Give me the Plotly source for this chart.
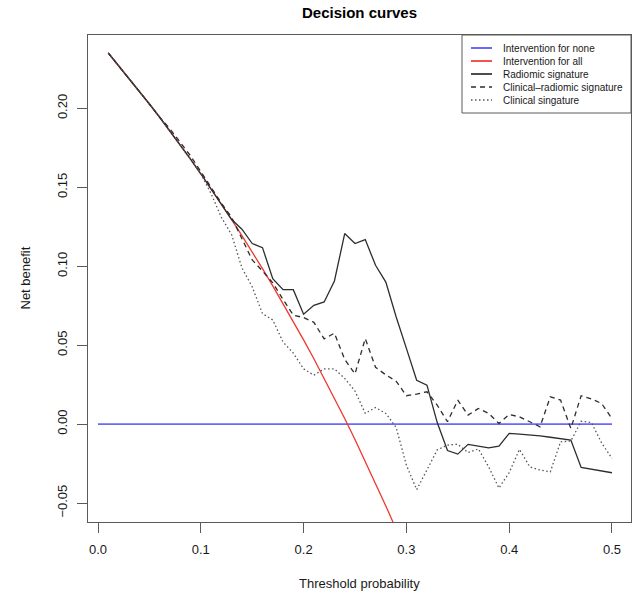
import plotly.graph_objects as go

# ---------------- data ----------------
thresholds = [0.01, 0.02, 0.03, 0.04, 0.05, 0.06, 0.07, 0.08, 0.09, 0.10,
              0.11, 0.12, 0.13, 0.14, 0.15, 0.16, 0.17, 0.18, 0.19, 0.20,
              0.21, 0.22, 0.23, 0.24, 0.25, 0.26, 0.27, 0.28, 0.29, 0.30,
              0.31, 0.32, 0.33, 0.34, 0.35, 0.36, 0.37, 0.38, 0.39, 0.40,
              0.41, 0.42, 0.43, 0.44, 0.45, 0.46, 0.47, 0.48, 0.49, 0.50]

none_x = [0.0, 0.5]
none_y = [0.0, 0.0]

all_x = [0.01, 0.02, 0.03, 0.04, 0.05, 0.06, 0.07, 0.08, 0.09, 0.10,
         0.11, 0.12, 0.13, 0.14, 0.15, 0.16, 0.17, 0.18, 0.19, 0.20,
         0.21, 0.22, 0.23, 0.24, 0.25, 0.26, 0.27, 0.28, 0.29, 0.30]
all_y = [0.2351, 0.2272, 0.2193, 0.2111, 0.2028, 0.1944, 0.1857, 0.1768, 0.1678, 0.1586,
         0.1491, 0.1394, 0.1295, 0.1194, 0.1091, 0.0985, 0.0876, 0.0765, 0.0651, 0.0534,
         0.0414, 0.0291, 0.0165, 0.0036, -0.0097, -0.0234, -0.0374, -0.0518, -0.0666, -0.0819]

radiomic = [0.2351, 0.2272, 0.2193, 0.2111, 0.2028, 0.1944, 0.1857, 0.1768, 0.1678, 0.1586,
            0.1491, 0.1395, 0.1296, 0.1235, 0.1144, 0.1118, 0.0922, 0.0852, 0.0852, 0.0696,
            0.0753, 0.0774, 0.0907, 0.1207, 0.1144, 0.1169, 0.1006, 0.0900, 0.0680, 0.0480,
            0.0278, 0.0247, 0.0010, -0.0167, -0.0190, -0.0128, -0.0141, -0.0150, -0.0140, -0.0059,
            -0.0063, -0.0067, -0.0075, -0.0083, -0.0092, -0.0101, -0.0274, -0.0285, -0.0296, -0.0308]

clinical_radiomic = [0.2351, 0.2272, 0.2193, 0.2111, 0.2028, 0.1944, 0.1870, 0.1785, 0.1700, 0.1600,
                     0.1500, 0.1400, 0.1310, 0.1180, 0.1040, 0.0970, 0.0895, 0.0790, 0.0690, 0.0675,
                     0.0645, 0.0540, 0.0576, 0.0410, 0.0318, 0.0542, 0.0360, 0.0312, 0.0272, 0.0180,
                     0.0190, 0.0205, 0.0120, 0.0015, 0.0152, 0.0057, 0.0099, 0.0068, 0.0004, 0.0061,
                     0.0046, 0.0015, -0.0017, 0.0173, 0.0152, -0.0027, 0.0180, 0.0160, 0.0130, 0.0035]

clinical = [0.2351, 0.2272, 0.2193, 0.2111, 0.2028, 0.1944, 0.1857, 0.1768, 0.1678, 0.1586,
            0.1460, 0.1310, 0.1200, 0.0990, 0.0870, 0.0700, 0.0660, 0.0520, 0.0450, 0.0350,
            0.0310, 0.0350, 0.0350, 0.0290, 0.0210, 0.0068, 0.0105, 0.0068, -0.0020, -0.0260,
            -0.0415, -0.0290, -0.0163, -0.0133, -0.0127, -0.0180, -0.0157, -0.0270, -0.0405, -0.0307,
            -0.0160, -0.0270, -0.0291, -0.0302, -0.0112, -0.0107, 0.0018, 0.0010, -0.0120, -0.0217]

series_names = ["Intervention for none", "Intervention for all", "Radiomic signature",
                "Clinical\u2013radiomic signature", "Clinical singature"]

x_tickvals = [0.0, 0.1, 0.2, 0.3, 0.4, 0.5]
x_ticktext = ["0.0", "0.1", "0.2", "0.3", "0.4", "0.5"]
y_tickvals = [-0.05, 0.0, 0.05, 0.10, 0.15, 0.20]
y_ticktext = ["\u22120.05", "0.00", "0.05", "0.10", "0.15", "0.20"]

# ---------------- styles ----------------
FONT = "Liberation Sans, Arial, Helvetica, sans-serif"
BLUE = "rgb(105,105,250)"
RED = "rgb(238,55,45)"
BLACK = "rgb(45,45,45)"
GREY = "rgb(85,85,85)"
AXC = "rgb(90,90,90)"
TXT = "rgb(25,25,25)"

styles = [
    dict(color=BLUE, width=1.6, dash="solid"),
    dict(color=RED, width=1.3, dash="solid"),
    dict(color=BLACK, width=1.3, dash="solid"),
    dict(color=BLACK, width=1.3, dash="5px,4px"),
    dict(color=GREY, width=1.3, dash="1.5px,2.5px"),
]

fig = go.Figure()
xs = [none_x, all_x, thresholds, thresholds, thresholds]
ys = [none_y, all_y, radiomic, clinical_radiomic, clinical]
for name, x, y, st in zip(series_names, xs, ys, styles):
    fig.add_trace(go.Scatter(x=x, y=y, mode="lines", name=name, line=st,
                             showlegend=False, hoverinfo="skip"))

W, H = 638, 598
ML, MR, MT, MB = 88, 7, 35, 76

fig.update_layout(
    width=W, height=H,
    margin=dict(l=ML, r=MR, t=MT, b=MB, autoexpand=False),
    paper_bgcolor="white", plot_bgcolor="white",
    font=dict(family=FONT, size=13, color=TXT),
    title=dict(text="<b>Decision curves</b>", x=0.5, xref="paper",
               y=1 - 13 / H, yref="container", yanchor="middle", xanchor="center",
               font=dict(size=15, family=FONT, color="black")),
    showlegend=False,
)

fig.update_xaxes(
    range=[-0.00973, 0.5185], tickvals=x_tickvals, ticktext=x_ticktext,
    showgrid=False, zeroline=False, showline=True, mirror=True, automargin=False,
    linecolor=AXC, linewidth=1, ticks="outside", ticklen=10, tickcolor=AXC, tickwidth=1,
    ticklabelstandoff=5, tickfont=dict(size=13),
)
fig.update_yaxes(
    range=[-0.0620, 0.2465], tickvals=y_tickvals, ticktext=y_ticktext, tickangle=-90,
    showgrid=False, zeroline=False, showline=True, mirror=True, automargin=False,
    linecolor=AXC, linewidth=1, ticks="outside", ticklen=10, tickcolor=AXC, tickwidth=1,
    ticklabelstandoff=5, tickfont=dict(size=13),
)

pw = W - ML - MR
ph = H - MT - MB
def px2x(px):
    return (px - ML) / pw
def py2y(py):
    return (H - MB - py) / ph

# axis titles
fig.add_annotation(text="Threshold probability", xref="paper", yref="paper",
                   x=0.5, y=py2y(583), xanchor="center", yanchor="middle",
                   showarrow=False, font=dict(size=13, family=FONT, color=TXT))
fig.add_annotation(text="Net benefit", xref="paper", yref="paper", textangle=-90,
                   x=px2x(25), y=0.5, xanchor="center", yanchor="middle",
                   showarrow=False, font=dict(size=13, family=FONT, color=TXT))

# ---------------- manual legend (R style, top-right inset 0) ----------------
fig.add_shape(type="rect", xref="paper", yref="paper",
              x0=px2x(462), x1=1.0, y0=py2y(113), y1=1.0,
              line=dict(color=AXC, width=1), fillcolor="white", layer="above")
row_px = [48, 61, 74, 87, 100]
for name, st, ry in zip(series_names, styles, row_px):
    fig.add_shape(type="line", xref="paper", yref="paper",
                  x0=px2x(471), x1=px2x(492), y0=py2y(ry), y1=py2y(ry),
                  line=dict(color=st["color"], width=st["width"] + 0.4, dash=st["dash"]),
                  layer="above")
    fig.add_annotation(text=name, xref="paper", yref="paper",
                       x=px2x(501), y=py2y(ry), xanchor="left", yanchor="middle",
                       showarrow=False, font=dict(size=10, family=FONT, color=TXT))

fig.write_html("out.html", config={"displayModeBar": False},
               post_script="document.body.style.margin='0px';document.body.style.overflow='hidden';")
